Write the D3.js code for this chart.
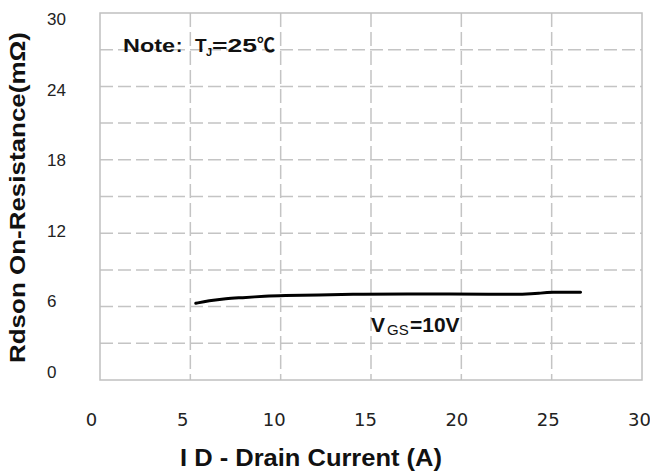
<!DOCTYPE html>
<html><head><meta charset="utf-8">
<script src="https://cdn.jsdelivr.net/npm/d3@7"></script>
<style>body{margin:0;background:#fff}</style>
</head><body>
<svg id="c" width="650" height="473"></svg>
<script>
const xTicks=[0,5,10,15,20,25,30];
const yTicks=[0,6,12,18,24,30];
const xGrid=[5,10,15,20,25];
const yGrid=[3,6,9,12,15,18,21,24,27];
const idCurrent=[5.3,6.0,7.0,7.8,9.2,10.1,12.0,14.6,17.0,19.4,21.5,23.6,24.3,24.9,26.6];
const rdsOn=[6.27,6.48,6.66,6.72,6.86,6.90,6.95,7.03,7.03,7.03,7.02,7.0,7.08,7.2,7.17];

const svg=d3.select('#c');
const L=100,R=642,T=13,B=380;
const x=d3.scaleLinear().domain([0,30]).range([L,R]);
const y=d3.scaleLinear().domain([0,30]).range([B,T]);
const xLab=d3.scaleLinear().domain([0,30]).range([91,639]);
const yLab=d3.scaleLinear().domain([0,30]).range([371.5,19]);

const g=svg.append('g');
g.selectAll('.hg').data(yGrid).enter().append('line')
 .attr('x1',L).attr('x2',R).attr('y1',d=>y(d)).attr('y2',d=>y(d))
 .attr('stroke','#c4c4c4').attr('stroke-width',1.5).attr('stroke-dasharray','13,5');
g.selectAll('.vg').data(xGrid).enter().append('line')
 .attr('y1',T).attr('y2',B).attr('x1',d=>x(d)).attr('x2',d=>x(d))
 .attr('stroke','#c4c4c4').attr('stroke-width',1.5).attr('stroke-dasharray','14,5');
g.append('rect').attr('x',L).attr('y',T).attr('width',R-L).attr('height',B-T)
 .attr('fill','none').attr('stroke','#c0c0c0').attr('stroke-width',1.5);

// x tick labels
const xa=svg.append('g').attr('transform','translate(0,420)')
 .call(d3.axisBottom(xLab).tickValues(xTicks).tickSize(0).tickPadding(0).tickFormat(d3.format('d')));
xa.select('.domain').remove();
xa.selectAll('text').attr('dy','0.35em').attr('y',0)
 .style('font-family','"DejaVu Sans",sans-serif').style('font-size','18px').attr('fill','#222');

// y tick labels
const ya=svg.append('g').attr('transform','translate(47,0)')
 .call(d3.axisLeft(yLab).tickValues(yTicks).tickSize(0).tickPadding(0).tickFormat(d3.format('d')));
ya.select('.domain').remove();
ya.selectAll('text').attr('x',0).attr('text-anchor','start').attr('dy','0.35em')
 .style('font-family','"Liberation Sans",Arial,sans-serif').style('font-size','17px').attr('fill','#222');

// curve
const pts=idCurrent.map((v,i)=>[v,rdsOn[i]]);
svg.append('path').datum(pts)
 .attr('d',d3.line().x(d=>x(d[0])).y(d=>y(d[1])).curve(d3.curveBasis))
 .attr('fill','none').attr('stroke','#000').attr('stroke-width',3).attr('stroke-linecap','round');

const bold='"Liberation Sans",Arial,sans-serif';
// note
const note=svg.append('text').attr('y',52).style('font-family',bold).style('font-weight','bold').style('font-size','19px').attr('fill','#111');
note.append('tspan').attr('x',123).attr('textLength',52).attr('lengthAdjust','spacingAndGlyphs').text('Note');
note.append('tspan').attr('x',176).text(':');
note.append('tspan').attr('x',195).text('T');
note.append('tspan').attr('x',206).attr('dy',4).style('font-size','11px').text('J');
note.append('tspan').attr('x',212).attr('dy',-4).attr('textLength',45).attr('lengthAdjust','spacingAndGlyphs').text('=25');
note.append('tspan').attr('x',257).attr('textLength',18).attr('lengthAdjust','spacingAndGlyphs').style('font-family','"Noto Sans CJK SC",sans-serif').text('℃');

// VGS label
const vg=svg.append('text').attr('y',331.5).style('font-family',bold).style('font-size','21px').attr('fill','#111');
vg.append('tspan').attr('x',371).style('font-weight','bold').text('V');
vg.append('tspan').attr('x',387).attr('dy',3.5).style('font-size','15px').text('GS');
vg.append('tspan').attr('x',410).attr('dy',-3.5).style('font-weight','bold').text('=10V');

// axis titles
svg.append('text').attr('x',311).attr('y',466).attr('text-anchor','middle')
 .attr('textLength',262).attr('lengthAdjust','spacingAndGlyphs')
 .style('font-family',bold).style('font-weight','bold').style('font-size','24px').attr('fill','#111')
 .text('I D - Drain Current (A)');
svg.append('text').attr('transform','translate(25,197.5) rotate(-90)').attr('text-anchor','middle')
 .attr('textLength',331).attr('lengthAdjust','spacingAndGlyphs')
 .style('font-family',bold).style('font-weight','bold').style('font-size','22px').attr('fill','#111')
 .text('Rdson On-Resistance(mΩ)');
</script>
</body></html>
